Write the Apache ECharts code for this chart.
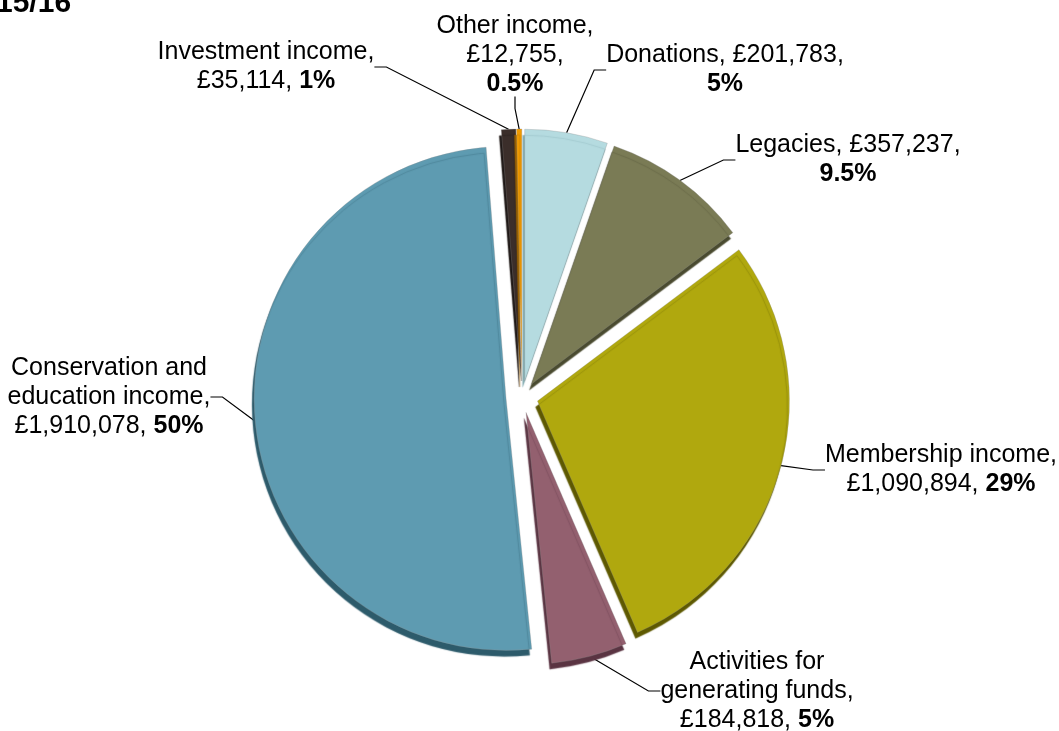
<!DOCTYPE html>
<html>
<head>
<meta charset="utf-8">
<script src="https://cdn.jsdelivr.net/npm/echarts@6/dist/echarts.min.js"></script>
<style>
  html, body { margin: 0; padding: 0; background: #fff; }
  #chart { width: 1059px; height: 731px; }
</style>
</head>
<body>
<div id="chart"></div>
<script>
// Income sources, clockwise from twelve o'clock
const categories = ['Donations', 'Legacies', 'Membership income', 'Activities for generating funds',
  'Conservation and education income', 'Investment income', 'Other income'];
const amounts = [201783, 357237, 1090894, 184818, 1910078, 35114, 12755];
const shareLabels = ['5%', '9.5%', '29%', '5%', '50%', '1%', '0.5%'];
// How each label's name is wrapped, and where the amount / share start a new line
const nameLines = [['Donations'], ['Legacies'], ['Membership income'], ['Activities for', 'generating funds'],
  ['Conservation and', 'education income'], ['Investment income'], ['Other income']];
const amountOnNewLine = [false, false, true, true, true, true, true];
const shareOnNewLine = [true, true, false, false, false, false, true];

const colors = ['#b5dbe0', '#7a7b55', '#b0a80e', '#93606f', '#5e9bb1', '#3b2e2a', '#f09a00'];
const edgeColors = ['#7fa9ae', '#4a4b30', '#5e5900', '#5a3442', '#2d5b6b', '#1d1614', '#9a6200'];
// label block centres
const labelPos = [[725, 70], [848, 160], [941, 470], [757, 691], [109, 397], [266, 67], [515, 55]];

const CENTER = [522, 397];
const RADIUS = 252;
const OFFSET = 16;
const FONT = '"Liberation Sans", Arial, sans-serif';

const fmt = v => '£' + v.toLocaleString('en-GB');

function labelText(i) {
  let s = nameLines[i].map(l => '{n|' + l + '}').join('\n') + '{n|,}';
  s += amountOnNewLine[i] ? '\n' : '{n| }';
  s += '{n|' + fmt(amounts[i]) + ',}';
  s += shareOnNewLine[i] ? '\n' : '{n| }';
  s += '{b|' + shareLabels[i] + '}';
  return s;
}

const chart = echarts.init(document.getElementById('chart'), null, { renderer: 'canvas' });
chart.setOption({
  animation: false,
  graphic: [{
    type: 'text',
    x: -4, y: -11,
    style: { text: '15/16', font: 'bold 30px ' + FONT, fill: '#000' }
  }],
  series: [
    {
      // exploded slices
      type: 'pie',
      center: CENTER,
      radius: RADIUS,
      startAngle: 90,
      clockwise: true,
      selectedMode: 'multiple',
      selectedOffset: OFFSET,
      silent: true,
      emphasis: { disabled: true },
      label: { show: false },
      labelLine: { show: false },
      data: categories.map((c, i) => ({
        name: c,
        value: amounts[i],
        selected: true,
        itemStyle: {
          color: colors[i],
          borderColor: 'rgba(140,140,140,0.5)',
          borderWidth: 0.6,
          shadowColor: edgeColors[i],
          shadowBlur: 1,
          shadowOffsetX: -2,
          shadowOffsetY: 6
        }
      }))
    },
    {
      // data labels and leader lines, anchored on the outer rim of the exploded slices
      type: 'pie',
      center: CENTER,
      radius: RADIUS + OFFSET,
      startAngle: 90,
      clockwise: true,
      silent: true,
      avoidLabelOverlap: false,
      emphasis: { disabled: true },
      itemStyle: { color: 'rgba(0,0,0,0)' },
      data: categories.map((c, i) => ({
        name: c,
        value: amounts[i],
        label: { formatter: () => labelText(i) }
      })),
      label: {
        show: true,
        position: 'outside',
        color: '#000',
        rich: {
          n: { fontFamily: FONT, fontSize: 25, lineHeight: 29, color: '#000', align: 'center' },
          b: { fontFamily: FONT, fontSize: 25, lineHeight: 29, color: '#000', fontWeight: 'bold', align: 'center' }
        }
      },
      labelLine: {
        show: true,
        length: 15,
        length2: 12,
        lineStyle: { color: '#000', width: 1.2 }
      },
      labelLayout: function (p) {
        const pos = labelPos[p.dataIndex];
        return { x: pos[0], y: pos[1], align: 'center', verticalAlign: 'middle' };
      }
    }
  ]
});
</script>
</body>
</html>
